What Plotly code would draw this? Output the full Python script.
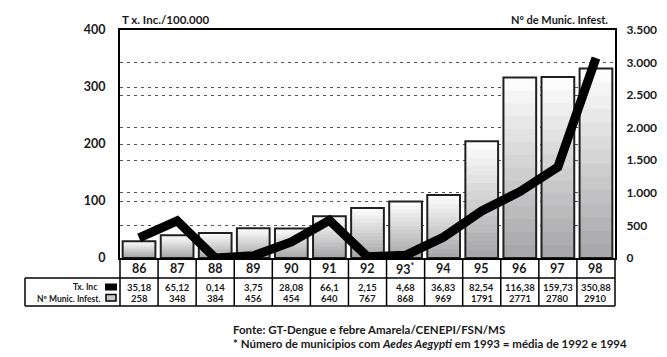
import plotly.graph_objects as go

# ---- data ----
years = ["86", "87", "88", "89", "90", "91", "92", "93*", "94", "95", "96", "97", "98"]
tx_inc = [35.18, 65.12, 0.14, 3.75, 28.08, 66.1, 2.15, 4.68, 36.83, 82.54, 116.38, 159.73, 350.88]
munic = [258, 348, 384, 456, 454, 640, 767, 868, 969, 1791, 2771, 2780, 2910]
left_ticks = [0, 100, 200, 300, 400]
right_ticks = [0, 500, 1000, 1500, 2000, 2500, 3000, 3500]
right_ticktext = ["0", "500", "1.000", "1.500", "2.000", "2.500", "3.000", "3.500"]

# page is offset by the default body margin
OFF = 8
PAGE_W, PAGE_H = 667, 357
W, H = PAGE_W - OFF, PAGE_H - OFF
PL, PR, PT, PB = 120, 615, 30, 258          # plot box in page pixels
L, T = PL - OFF, PT - OFF
R, B = W - (PR - OFF), H - (PB - OFF)
PW, PH = PR - PL, PB - PT
FONT = "Lato"
TXT = "#1a1a1a"


def px(xp):
    return (xp - PL) / PW


def py(yp):
    return (PB - yp) / PH


fig = go.Figure()

# gradient bars built as overlaid layers (light top -> dark bottom)
N = 14
top_c, bot_c = (252, 252, 252), (168, 168, 170)
for k in range(N):
    f = (N - k) / N
    t = k / (N - 1)
    c = tuple(int(top_c[j] + (bot_c[j] - top_c[j]) * t) for j in range(3))
    fig.add_trace(go.Bar(
        x=years, y=[v * f for v in munic], width=0.86,
        marker=dict(color="rgb(%d,%d,%d)" % c, line=dict(width=0)),
        yaxis="y", showlegend=False, hoverinfo="skip"))
fig.add_trace(go.Bar(
    x=years, y=munic, width=0.86,
    marker=dict(color="rgba(0,0,0,0)", line=dict(color="#202020", width=2)),
    yaxis="y", showlegend=False, name="Nº Munic. Infest."))

fig.add_trace(go.Scatter(
    x=years, y=tx_inc, mode="lines", yaxis="y2",
    line=dict(color="black", width=9), showlegend=False, name="Tx. Inc"))

shapes = []
ann = []
lw = 1.5


def A(x, y, text, size, xanchor="center"):
    ann.append(dict(x=x, y=y, xref="paper", yref="paper", text=text, showarrow=False,
                    xanchor=xanchor, yanchor="middle",
                    font=dict(size=size, family=FONT, color=TXT, weight="bold")))


# table lines
for yy in (278, 306):
    shapes.append(dict(type="line", xref="paper", yref="paper", x0=px(25), x1=px(615),
                       y0=py(yy), y1=py(yy), line=dict(color="black", width=lw)))
shapes.append(dict(type="line", xref="paper", yref="paper", x0=px(25), x1=px(25),
                   y0=py(278), y1=py(306), line=dict(color="black", width=lw)))
n = len(years)
for i in range(n + 1):
    shapes.append(dict(type="line", xref="paper", yref="paper", x0=i / n, x1=i / n,
                       y0=py(258), y1=py(306), line=dict(color="black", width=lw)))

fmt = lambda v: ("%g" % v).replace(".", ",")
for i in range(n):
    xc = (i + 0.5) / n
    A(xc, py(268.5), years[i].replace("*", "<sup>*</sup>"), 12.5)
    A(xc, py(287), fmt(tx_inc[i]), 9.5)
    A(xc, py(298.5), str(munic[i]), 9.5)

# row labels + legend symbols
A(px(99), py(287), "Tx. Inc", 8.5, "right")
A(px(102), py(298.5), "Nº Munic. Infest.", 8.5, "right")
shapes.append(dict(type="line", xref="paper", yref="paper", x0=px(105), x1=px(117),
                   y0=py(287), y1=py(287), line=dict(color="black", width=7)))
shapes.append(dict(type="rect", xref="paper", yref="paper", x0=px(106), x1=px(116),
                   y0=py(294.5), y1=py(301), fillcolor="#c8c8c8", line=dict(color="black", width=1.5)))

# axis titles
A(0, py(19.5), "T x. Inc./100.000", 11.5, "left")
A(px(610), py(19.5), "Nº de Munic. Infest.", 11, "right")

# footer
A(px(231), py(329), "Fonte: GT-Dengue e febre Amarela/CENEPI/FSN/MS", 11.5, "left")
A(px(231), py(343), "* Número de municipios com <i>Aedes Aegypti</i> em 1993 = média de 1992 e 1994",
  11.5, "left")

grid = dict(showgrid=True, gridcolor="#555555", griddash="3px,4px", gridwidth=1)
fig.update_layout(
    width=W, height=H, margin=dict(l=L, r=R, t=T, b=B, autoexpand=False),
    paper_bgcolor="white", plot_bgcolor="white",
    barmode="overlay",
    font=dict(family=FONT, color=TXT, size=12, weight="bold"),
    xaxis=dict(type="category", range=[-0.5, n - 0.5], showticklabels=False, ticks="",
               showline=True, mirror=True, linecolor="black", linewidth=2, showgrid=False),
    yaxis=dict(side="right", range=[0, 3500], tickvals=right_ticks, ticktext=right_ticktext,
               showline=True, linecolor="black", linewidth=2, ticks="", zeroline=False,
               ticklabelstandoff=7, tickfont=dict(size=12, family=FONT, color=TXT, weight="bold"),
               **grid),
    yaxis2=dict(side="left", overlaying="y", range=[0, 400], tickvals=left_ticks,
                showline=True, linecolor="black", linewidth=2, ticks="", zeroline=False,
                ticklabelstandoff=10, tickfont=dict(size=12.5, family=FONT, color=TXT, weight="bold"),
                **grid),
    shapes=shapes, annotations=ann,
)

fig.write_html("out.html")
